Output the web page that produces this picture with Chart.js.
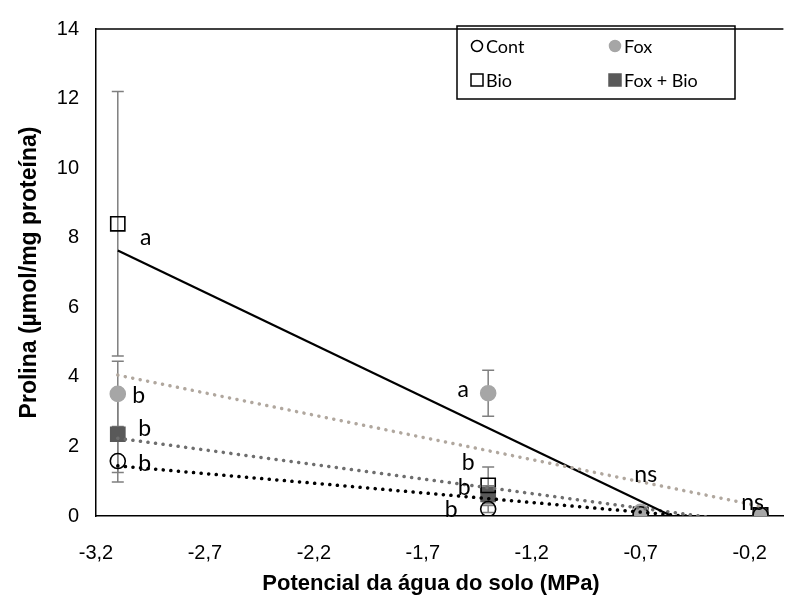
<!DOCTYPE html>
<html>
<head>
<meta charset="utf-8">
<script src="https://cdn.jsdelivr.net/npm/chart.js@4.4.1/dist/chart.umd.min.js"></script>
<style>
  html, body { margin: 0; padding: 0; background: #fff; }
  #wrap { width: 795px; height: 604px; position: relative; }
</style>
</head>
<body>
<div id="wrap"><canvas id="chart"></canvas></div>
<script>
// soil water potential levels (MPa)
const xLevels = [-3.1, -1.4, -0.7, -0.15];
const xTicks = [-3.2, -2.7, -2.2, -1.7, -1.2, -0.7, -0.2];

// proline means and error bars
const contVals = [1.58, 0.20, 0.05, 0.03];
const contErr = [0.60, 0.10, 0.02, 0.01];
const foxVals = [3.51, 3.53, 0.12, 0.03];
const foxErr = [0.94, 0.66, 0.05, 0.01];
const bioVals = [8.40, 0.88, 0.05, 0.03];
const bioErr = [3.80, 0.53, 0.02, 0.01];
const foxBioVals = [2.35, 0.62, 0.04, 0.03];
const foxBioErr = [1.10, 0.25, 0.02, 0.01];

// significance letters
const contLetters = ['b', 'b', '', ''];
const foxLetters = ['b', 'a', '', ''];
const bioLetters = ['a', 'b', '', ''];
const foxBioLetters = ['b', 'b', 'ns', 'ns'];

// pixel offsets of the letters from their point
const letterOffsets = {
    Cont: [[27, 3], [-37, 1]],
    Fox: [[21, 2], [-25, -4]],
    Bio: [[28, 14], [-20, -23]],
    'Fox + Bio': [[27, -6], [-24, -7], [5, -40], [-8, -12]]
};

const series = [
    { label: 'Cont', vals: contVals, err: contErr, letters: contLetters,
      shape: 'circle', fill: 'rgba(0,0,0,0)', stroke: '#000', trend: '#000', dotted: true },
    { label: 'Fox', vals: foxVals, err: foxErr, letters: foxLetters,
      shape: 'circle', fill: '#a6a6a6', stroke: '#a6a6a6', trend: '#b0a79e', dotted: true },
    { label: 'Bio', vals: bioVals, err: bioErr, letters: bioLetters,
      shape: 'rect', fill: 'rgba(0,0,0,0)', stroke: '#000', trend: '#000', dotted: false },
    { label: 'Fox + Bio', vals: foxBioVals, err: foxBioErr, letters: foxBioLetters,
      shape: 'rect', fill: '#595959', stroke: '#595959', trend: '#6e6e6e', dotted: true }
];

function linearTrend(vals) {
    const n = xLevels.length;
    const mx = xLevels.reduce((a, b) => a + b, 0) / n;
    const my = vals.reduce((a, b) => a + b, 0) / n;
    let sxy = 0, sxx = 0;
    for (let i = 0; i < n; i++) {
        sxy += (xLevels[i] - mx) * (vals[i] - my);
        sxx += (xLevels[i] - mx) * (xLevels[i] - mx);
    }
    const slope = sxy / sxx;
    const x0 = xLevels[0], x1 = xLevels[n - 1];
    return [{ x: x0, y: my + slope * (x0 - mx) }, { x: x1, y: my + slope * (x1 - mx) }];
}

const trendSets = series.map(s => ({
    type: 'line',
    label: s.label + ' trend',
    data: linearTrend(s.vals),
    borderColor: s.trend,
    borderWidth: s.dotted ? 3.5 : 2.2,
    borderDash: s.dotted ? [0.1, 7.5] : [],
    borderCapStyle: s.dotted ? 'round' : 'butt',
    pointRadius: 0,
    fill: false,
    clip: 0
}));

const pointSets = series.map(s => ({
    type: 'scatter',
    label: s.label,
    data: xLevels.map((x, i) => ({ x: x, y: s.vals[i] })),
    pointStyle: s.shape,
    pointRadius: s.shape === 'rect' ? 10 : 7.5,
    pointBackgroundColor: s.fill,
    pointBorderColor: s.stroke,
    pointBorderWidth: 1.6,
    showLine: false
}));

const errorBars = {
    id: 'errorBars',
    beforeDatasetsDraw(chart) {
        const ctx = chart.ctx, xs = chart.scales.x, ys = chart.scales.y;
        ctx.save();
        ctx.strokeStyle = '#7f7f7f';
        ctx.lineWidth = 1.5;
        series.forEach(s => {
            xLevels.forEach((x, i) => {
                const px = xs.getPixelForValue(x);
                const top = ys.getPixelForValue(s.vals[i] + s.err[i]);
                const bot = ys.getPixelForValue(Math.max(0, s.vals[i] - s.err[i]));
                ctx.beginPath();
                ctx.moveTo(px, top); ctx.lineTo(px, bot);
                ctx.moveTo(px - 6, top); ctx.lineTo(px + 6, top);
                ctx.moveTo(px - 6, bot); ctx.lineTo(px + 6, bot);
                ctx.stroke();
            });
        });
        ctx.restore();
    }
};

const extras = {
    id: 'extras',
    afterDraw(chart) {
        const ctx = chart.ctx, xs = chart.scales.x, ys = chart.scales.y, area = chart.chartArea;
        ctx.save();
        // plot frame top line
        ctx.strokeStyle = '#000';
        ctx.lineWidth = 1.5;
        ctx.beginPath();
        ctx.moveTo(area.left, area.top);
        ctx.lineTo(area.right, area.top);
        ctx.stroke();

        // significance letters
        ctx.fillStyle = '#000';
        ctx.font = '23px Lato, "Open Sans", sans-serif';
        ctx.textAlign = 'center';
        ctx.textBaseline = 'middle';
        series.forEach(s => {
            s.letters.forEach((t, i) => {
                if (!t) return;
                const off = letterOffsets[s.label][i];
                ctx.fillText(t, xs.getPixelForValue(xLevels[i]) + off[0], ys.getPixelForValue(s.vals[i]) + off[1]);
            });
        });

        // legend box
        ctx.lineWidth = 1.5;
        ctx.strokeRect(457, 26, 278, 73);
        ctx.font = '18px Lato, "Open Sans", sans-serif';
        ctx.textAlign = 'left';
        const cells = [[0, 477, 46], [1, 615, 46], [2, 477, 80], [3, 615, 80]];
        cells.forEach(c => {
            const s = series[c[0]];
            const mx = c[1], my = c[2];
            ctx.beginPath();
            if (s.shape === 'circle') {
                ctx.arc(mx, my, 5.5, 0, Math.PI * 2);
            } else {
                ctx.rect(mx - 6, my - 6, 12, 12);
            }
            if (s.fill !== 'rgba(0,0,0,0)') { ctx.fillStyle = s.fill; ctx.fill(); }
            ctx.strokeStyle = s.stroke;
            ctx.lineWidth = 1.5;
            ctx.stroke();
            ctx.fillStyle = '#000';
            ctx.fillText(s.label, mx + 9, my + 1);
        });

        // x axis title
        ctx.font = 'bold 22px "Liberation Sans", Arial, sans-serif';
        ctx.textAlign = 'center';
        ctx.fillText('Potencial da água do solo (MPa)', 431, 584);
        ctx.restore();
    }
};

new Chart(document.getElementById('chart'), {
    data: { datasets: trendSets.concat(pointSets) },
    options: {
        responsive: true,
        maintainAspectRatio: false,
        animation: false,
        layout: { padding: { top: 21, right: 0, left: 0, bottom: 0 } },
        plugins: { legend: { display: false }, tooltip: { enabled: false } },
        scales: {
            x: {
                type: 'linear',
                min: -3.2,
                max: -0.045,
                afterBuildTicks: scale => { scale.ticks = xTicks.map(v => ({ value: v })); },
                afterFit: scale => { scale.height = 88; },
                grid: { display: false, drawTicks: false },
                border: { display: true, color: '#000', width: 1.5 },
                ticks: {
                    padding: 25,
                    color: '#000',
                    font: { family: '"Liberation Sans", Arial, sans-serif', size: 20 },
                    callback: v => v.toFixed(1).replace('.', ',')
                }
            },
            y: {
                type: 'linear',
                min: 0,
                max: 14,
                afterFit: scale => { scale.width = 96; },
                grid: { display: false, drawTicks: false },
                border: { display: true, color: '#000', width: 1.5 },
                ticks: {
                    stepSize: 2,
                    padding: 17,
                    color: '#000',
                    font: { family: '"Liberation Sans", Arial, sans-serif', size: 20 }
                },
                title: {
                    display: true,
                    text: 'Prolina (µmol/mg proteína)',
                    color: '#000',
                    padding: { top: 16, bottom: 0 },
                    font: { family: '"Liberation Sans", Arial, sans-serif', size: 23, weight: 'bold' }
                }
            }
        }
    },
    plugins: [errorBars, extras]
});
</script>
</body>
</html>
